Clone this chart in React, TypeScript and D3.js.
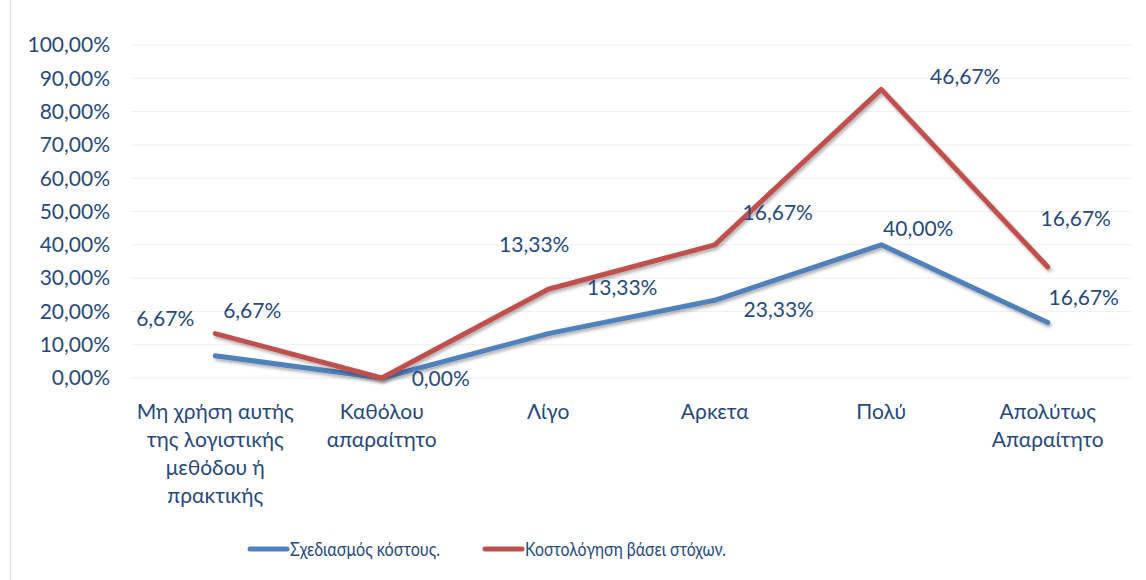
import React from "react";
import * as d3 from "d3";

const categories = [
  ["Μη χρήση αυτής", "της λογιστικής", "μεθόδου ή", "πρακτικής"],
  ["Καθόλου", "απαραίτητο"],
  ["Λίγο"],
  ["Αρκετα"],
  ["Πολύ"],
  ["Απολύτως", "Απαραίτητο"],
];
const seriesNames = ["Σχεδιασμός κόστους.", "Κοστολόγηση βάσει στόχων."];
const blueValues = [0.0667, 0, 0.1333, 0.2333, 0.4, 0.1667];
const redValues = [0.0667, 0, 0.1333, 0.1667, 0.4667, 0.1667];
const yTicks = [0, 0.1, 0.2, 0.3, 0.4, 0.5, 0.6, 0.7, 0.8, 0.9, 1.0];
// label offsets (dx, dy) relative to points
const blueLabelOffsets: [number, number][] = [[-50, -37], [59, 1], [74, -46], [64, 9], [37, -16], [36, -25]];
const redLabelOffsets: [number, number][] = [[37, -23], [0, 0], [-14, -45], [63, -32], [84, -13], [28, -48]];
const showRed = [true, false, true, true, true, true];

const W = 1146, H = 580;
const COLORS = ["#4F81BD", "#C0504D"];
const TEXT = "#264a7d";
const FONT = "Lato, 'Open Sans', sans-serif";
const FS = 21;

export default function App() {
  const x = d3.scaleBand<number>().domain(d3.range(categories.length)).range([132, 1131]);
  const y = d3.scaleLinear().domain([0, 1]).range([378, 45]);
  const cx = (i: number) => (x(i) as number) + x.bandwidth() / 2;
  const stackedRed = redValues.map((v, i) => v + blueValues[i]);
  const line = d3.line<number>().x((_, i) => cx(i)).y((d) => y(d));
  const fmt = (v: number) => (v * 100).toFixed(2).replace(".", ",") + "%";

  return (
    <svg width={W} height={H} style={{ position: "absolute", left: 0, top: 0, background: "#fff" }} fontFamily={FONT}>
      <defs>
        <filter id="sh" x="-10%" y="-10%" width="120%" height="130%">
          <feDropShadow dx="1.5" dy="2.5" stdDeviation="1.5" floodColor="#000" floodOpacity="0.3" />
        </filter>
      </defs>
      <rect x={10.5} y={-2} width={W} height={H + 4} fill="none" stroke="#e0e0e0" />
      {yTicks.map((t) => (
        <g key={t}>
          <line x1={132} x2={1131} y1={y(t)} y2={y(t)} stroke="#f0f0f0" strokeWidth={1} />
          <text x={110} y={y(t)} dy="0.35em" textAnchor="end" fontSize={FS} fill={TEXT}>{fmt(t)}</text>
        </g>
      ))}
      {categories.map((lines, i) => (
        <text key={i} x={cx(i)} y={419} textAnchor="middle" fontSize={FS} fill={TEXT}>
          {lines.map((l, j) => (
            <tspan key={j} x={cx(i)} dy={j === 0 ? 0 : 28}>{l}</tspan>
          ))}
        </text>
      ))}
      <path d={line(blueValues) as string} fill="none" stroke={COLORS[0]} strokeWidth={5} strokeLinejoin="round" strokeLinecap="round" filter="url(#sh)" />
      <path d={line(stackedRed) as string} fill="none" stroke={COLORS[1]} strokeWidth={5} strokeLinejoin="round" strokeLinecap="round" filter="url(#sh)" />
      {blueValues.map((v, i) => (
        <text key={"b" + i} x={cx(i) + blueLabelOffsets[i][0]} y={y(v) + blueLabelOffsets[i][1]} dy="0.35em" textAnchor="middle" fontSize={FS} fill={TEXT}>{fmt(v)}</text>
      ))}
      {redValues.map((v, i) => showRed[i] ? (
        <text key={"r" + i} x={cx(i) + redLabelOffsets[i][0]} y={y(stackedRed[i]) + redLabelOffsets[i][1]} dy="0.35em" textAnchor="middle" fontSize={FS} fill={TEXT}>{fmt(v)}</text>
      ) : null)}
      {seriesNames.map((n, i) => {
        const lx = i === 0 ? 248 : 483;
        return (
          <g key={n}>
            <line x1={lx + 2} x2={lx + 39} y1={549} y2={549} stroke={COLORS[i]} strokeWidth={5} strokeLinecap="round" />
            <text x={lx + 42} y={549} dy="0.35em" fontSize={19} fill={TEXT} textLength={i === 0 ? 150 : 201} lengthAdjust="spacingAndGlyphs">{n}</text>
          </g>
        );
      })}
    </svg>
  );
}
